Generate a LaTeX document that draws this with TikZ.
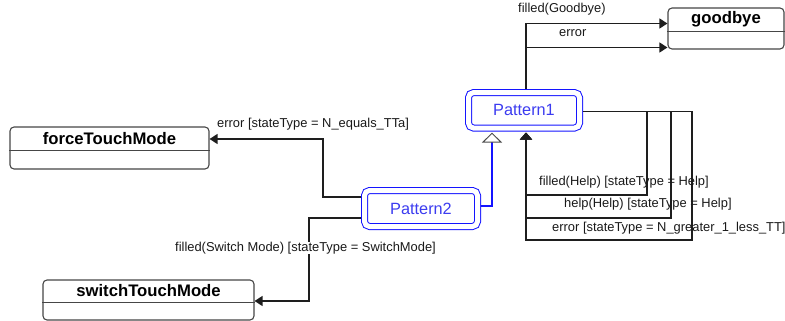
\documentclass[tikz,border=0pt]{standalone}
\usepackage{fontspec}
\setmainfont{Liberation Sans}
\usetikzlibrary{arrows.meta}
\definecolor{patblue}{RGB}{20,20,255}
\definecolor{pattext}{RGB}{60,60,240}
\definecolor{edge}{RGB}{30,30,30}
\definecolor{boxline}{RGB}{70,70,70}
\begin{document}
\begin{tikzpicture}[x=1pt,y=-1pt,
  statebox/.style={draw=boxline, line width=1.1pt, rounded corners=4pt,
    minimum height=42pt, inner sep=0pt, fill=white},
  statetitle/.style={font=\fontsize{16.7}{18}\selectfont\bfseries, inner sep=0pt, anchor=center},
  pattern/.style={draw=patblue, line width=1pt, double=white, double distance=5pt,
    rounded corners=5pt, outer sep=3.5pt, inner sep=0pt, fill=white,
    text=pattext, font=\fontsize{16.3}{18}\selectfont},
  conn/.style={draw=edge, line width=1.3pt, -{Triangle[length=8pt,width=10pt]}},
  upconn/.style={draw=edge, line width=1.3pt, -{Triangle[length=7pt,width=12pt]}, shorten >=1pt},
  inh/.style={draw=patblue, line width=1.2pt,
    -{Triangle[open,length=10pt,width=20pt,color=black!70,fill=white,line width=1pt]}, shorten >=1pt},
  lbl/.style={font=\fontsize{12.9}{14}\selectfont, text=black!90, inner sep=0pt, anchor=west,
    text height=9pt, text depth=3pt},
]
\useasboundingbox (0,0) rectangle (785,321);

% states
\node[statebox, minimum width=116pt, minimum height=41pt] (gb) at (726,28.5) {};
\node[statebox, minimum width=199pt] (force) at (109.5,148) {};
\node[statebox, minimum width=211pt, minimum height=40pt] (switch) at (148.5,300) {};
\draw[boxline, line width=1.1pt] ([yshift=-24]gb.north west) -- ([yshift=-24]gb.north east);
\draw[boxline, line width=1.1pt] ([yshift=-24]force.north west) -- ([yshift=-24]force.north east);
\draw[boxline, line width=1.1pt] ([yshift=-23]switch.north west) -- ([yshift=-23]switch.north east);
\node[statetitle] (gbt) at ([yshift=-12]gb.north) {goodbye};
\node[statetitle] (forcet) at ([yshift=-12]force.north) {forceTouchMode};
\node[statetitle] (switcht) at ([yshift=-11.5]switch.north) {switchTouchMode};

% patterns
\node[pattern, minimum width=111pt, minimum height=35.5pt] (p1) at (524,110.3) {Pattern1};
\node[pattern, minimum width=113pt, minimum height=36pt] (p2) at (421,208.5) {Pattern2};

% Pattern1 -> goodbye
\draw[conn] ([xshift=2]p1.north) |- ([yshift=5]gb.west);
\draw[conn] ([xshift=2]p1.north) |- ([yshift=-19]gb.west);

% Pattern1 self transitions
\draw[upconn] ([yshift=-1]p1.east) -| (647,195) -| ([xshift=2]p1.south);
\draw[upconn] ([yshift=-1]p1.east) -| (671,218) -| ([xshift=2]p1.south);
\draw[upconn] ([yshift=-1]p1.east) -| (692,240) -| ([xshift=2]p1.south);

% Pattern2 specialises Pattern1
\draw[inh] ([yshift=2.5]p2.east) -| ([xshift=-32]p1.south);

% Pattern2 -> forceTouchMode / switchTouchMode
\draw[conn] ([yshift=11.5]p2.west) -| (323,139) -- ([yshift=9]force.east);
\draw[conn] ([yshift=-9.5]p2.west) -| (309,301) -- ([yshift=-1]switch.east);

% transition labels
\node[lbl] (l1) at (518,10) {filled(Goodbye)};
\node[lbl] (l2) at (559,34) {error};
\node[lbl] (l3) at (217,125) {error [stateType = N\_equals\_TTa]};
\node[lbl, fill=white, inner xsep=1pt] (l4) at (174,248) {filled(Switch Mode) [stateType = SwitchMode]};
\node[lbl] (l5) at (539,182) {filled(Help) [stateType = Help]};
\node[lbl] (l6) at (564,204.5) {help(Help) [stateType = Help]};
\node[lbl] (l7) at (552,228.5) {error [stateType = N\_greater\_1\_less\_TT]};
\end{tikzpicture}
\end{document}
